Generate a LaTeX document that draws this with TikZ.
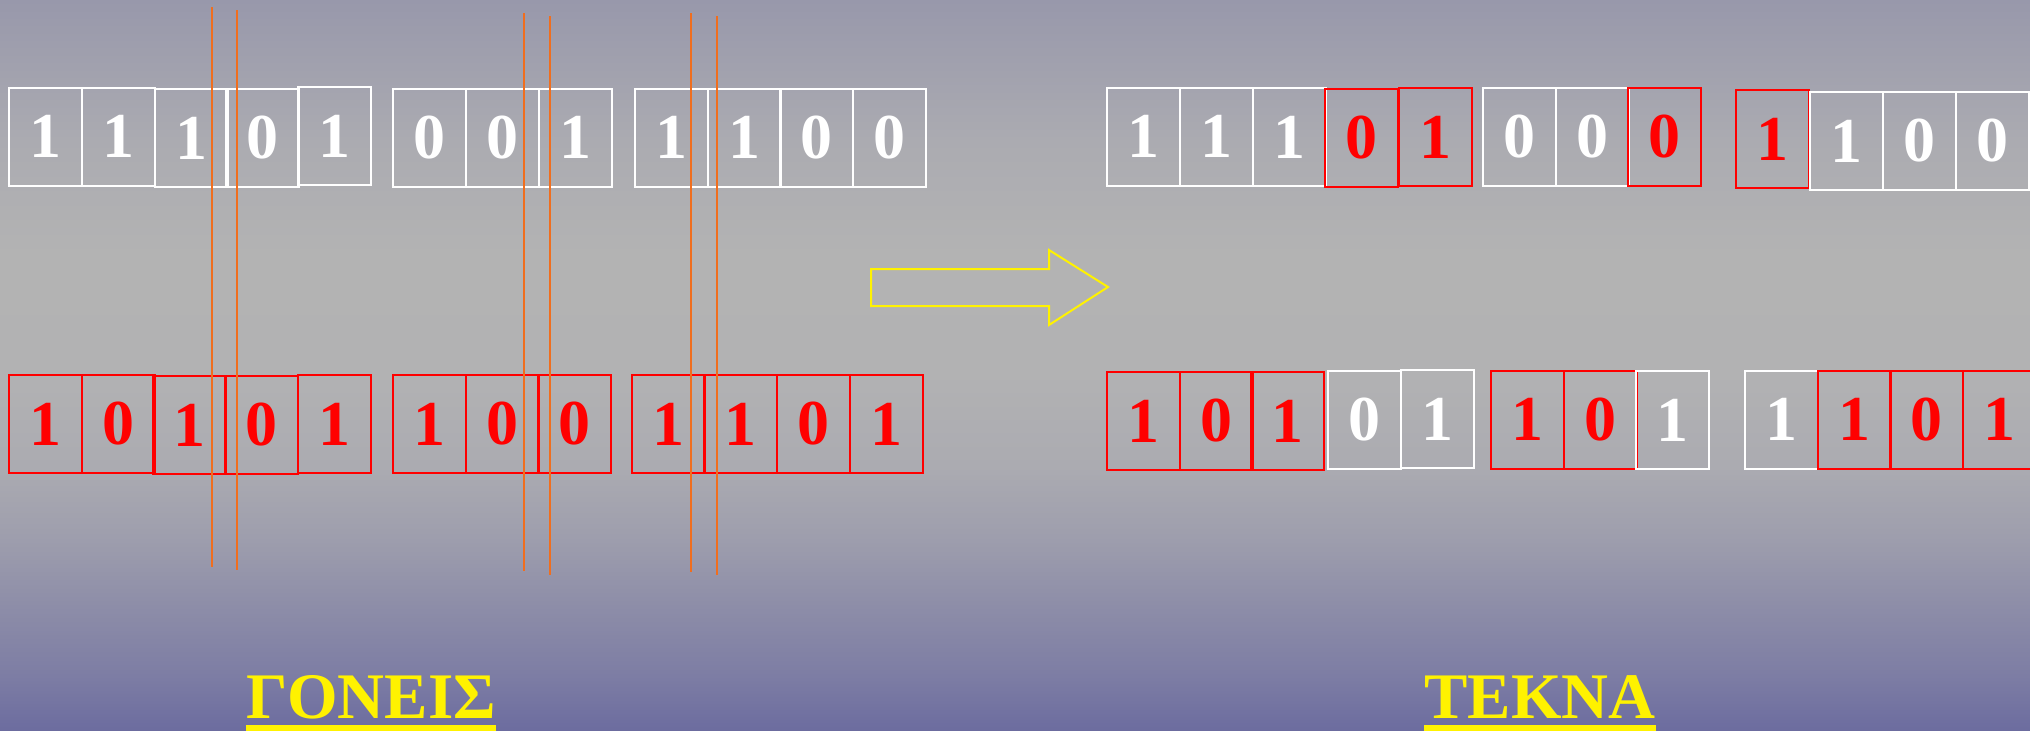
\documentclass[tikz,border=0pt]{standalone}
\usepackage{fontspec}
\setmainfont{Liberation Serif}

\definecolor{bga}{HTML}{9898AB}
\definecolor{bgb}{HTML}{ABABB1}
\definecolor{bgc}{HTML}{B3B3B3}
\definecolor{bgd}{HTML}{B2B2B3}
\definecolor{bge}{HTML}{ABABB1}
\definecolor{bgf}{HTML}{9E9EAD}
\definecolor{bgg}{HTML}{8D8DA8}
\definecolor{bgh}{HTML}{7D7DA4}
\definecolor{bgk}{HTML}{6C6C9F}
\definecolor{cutorange}{RGB}{240,110,30}

\pgfdeclareverticalshading{slidebg}{100bp}{color(0bp)=(bgk); color(25bp)=(bgk);
  color(28.8bp)=(bgh); color(33.5bp)=(bgg); color(38.3bp)=(bgf); color(43.1bp)=(bge);
  color(49.5bp)=(bgd); color(57.5bp)=(bgc); color(65.4bp)=(bgb); color(75bp)=(bga);
  color(100bp)=(bga)}

\begin{document}
\begin{tikzpicture}[x=1pt,y=-1pt,
  bit/.style={draw, line width=2pt, minimum width=73pt, minimum height=98pt, inner sep=0pt,
    font=\fontsize{64}{64}\selectfont\bfseries},
  wbit/.style={bit, white},
  rbit/.style={bit, red},
  cut/.style={cutorange, line width=2.2pt},
  title/.style={text=yellow, inner sep=0pt, anchor=base, font=\fontsize{65}{65}\selectfont\bfseries}]
\path[use as bounding box, clip] (0,0) rectangle (2030,731);
\shade[shading=slidebg] (0,0) rectangle (2030,731);

% parent 1
\node[wbit] (a1) at (45.5,136.5) {1};
\node[wbit] (a2) at (118.5,136.5) {1};
\node[wbit] (a3) at (191,138) {1};
\node[wbit] (a4) at (262.5,138) {0};
\node[wbit] (a5) at (334.5,136) {1};
\node[wbit] (a6) at (429.5,137.5) {0};
\node[wbit] (a7) at (502,137.5) {0};
\node[wbit] (a8) at (575,137.5) {1};
\node[wbit] (a9) at (671.5,137.5) {1};
\node[wbit] (a10) at (744,137.5) {1};
\node[wbit] (a11) at (816.5,137.5) {0};
\node[wbit] (a12) at (889.5,137.5) {0};

% parent 2
\node[rbit] (b1) at (45.5,424) {1};
\node[rbit] (b2) at (118,424) {0};
\node[rbit] (b3) at (189.5,425) {1};
\node[rbit] (b4) at (261.5,425) {0};
\node[rbit] (b5) at (334.5,424) {1};
\node[rbit] (b6) at (429.5,424) {1};
\node[rbit] (b7) at (502,424) {0};
\node[rbit] (b8) at (574,424) {0};
\node[rbit] (b9) at (668,424) {1};
\node[rbit] (b10) at (740.5,424) {1};
\node[rbit] (b11) at (813.5,424) {0};
\node[rbit] (b12) at (886.5,424) {1};

% crossover points
\draw[cut] (212,7) -- (212,567);
\draw[cut] (237,10) -- (237,570);
\draw[cut] (524,13) -- (524,571);
\draw[cut] (550,16) -- (550,575);
\draw[cut] (691,13) -- (691,572);
\draw[cut] (717,16) -- (717,575);

% big arrow
\draw[yellow, line width=2pt] (871,269) -- (1049,269) -- (1049,250) -- (1108,287)
  -- (1049,325) -- (1049,306) -- (871,306) -- cycle;

% child 1
\node[wbit] (c1) at (1143.5,136.5) {1};
\node[wbit] (c2) at (1216.5,136.5) {1};
\node[wbit] (c3) at (1289,137) {1};
\node[rbit] (c4) at (1361.5,138) {0};
\node[rbit] (c5) at (1435,137) {1};
\node[wbit] (c6) at (1519.5,136.5) {0};
\node[wbit] (c7) at (1592,136.5) {0};
\node[rbit] (c8) at (1664.5,136.5) {0};
\node[rbit] (c9) at (1772.5,139) {1};
\node[wbit] (c10) at (1846,141) {1};
\node[wbit] (c11) at (1919.5,141) {0};
\node[wbit] (c12) at (1992.5,141) {0};

% child 2
\node[rbit] (d1) at (1143.5,421) {1};
\node[rbit] (d2) at (1216,421) {0};
\node[rbit] (d3) at (1287.5,421) {1};
\node[wbit] (d4) at (1364.5,420) {0};
\node[wbit] (d5) at (1437.5,419) {1};
\node[rbit] (d6) at (1527.5,419.5) {1};
\node[rbit] (d7) at (1600,419.5) {0};
\node[wbit] (d8) at (1672,420) {1};
\node[wbit] (d9) at (1781.5,419.5) {1};
\node[rbit] (d10) at (1854,419.5) {1};
\node[rbit] (d11) at (1926.5,419.5) {0};
\node[rbit] (d12) at (1999.5,419.5) {1};

% captions
\node[title] (goneis) at (371,718) {ΓΟΝΕΙΣ};
\node[title] (tekna) at (1540,718) {ΤΕΚΝΑ};
\draw[yellow, line width=6pt] ([yshift=-10pt]goneis.base west) -- ([yshift=-10pt]goneis.base east);
\draw[yellow, line width=6pt] ([yshift=-10pt]tekna.base west) -- ([yshift=-10pt]tekna.base east);
\end{tikzpicture}
\end{document}
